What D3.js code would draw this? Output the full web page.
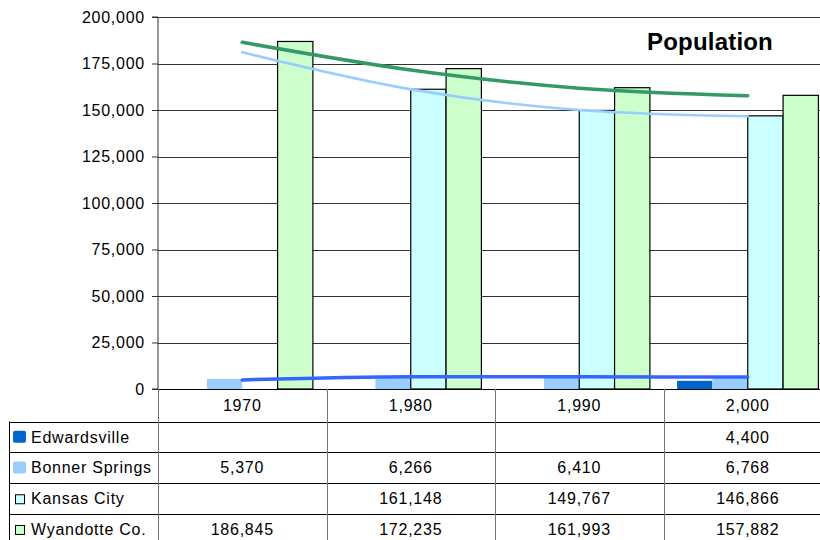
<!DOCTYPE html>
<html>
<head>
<meta charset="utf-8">
<script src="https://cdn.jsdelivr.net/npm/d3@7"></script>
<style>
  html, body { margin: 0; padding: 0; background: #fff; }
  svg { display: block; font-family: "Liberation Sans", Arial, sans-serif; }
</style>
</head>
<body>
<svg id="chart" width="820" height="540"></svg>
<script>
// Census years and their labels as shown in the data table
const years = ["1970", "1980", "1990", "2000"];
const yearLabels = ["1970", "1,980", "1,990", "2,000"];

// Population by place (null = no figure for that year)
const seriesNames = ["Edwardsville", "Bonner Springs", "Kansas City", "Wyandotte Co."];
const edwardsville = [null, null, null, 4400];
const bonnerSprings = [5370, 6266, 6410, 6768];
const kansasCity = [null, 161148, 149767, 146866];
const wyandotteCo = [186845, 172235, 161993, 157882];

// Trend lines drawn across the years
const wyandotteTrend = [186400, 171500, 161700, 157700];
const kansasCityTrend = [181000, 161100, 150000, 146600];
const bonnerTrend = [4900, 6650, 6550, 6450];

// Value axis ticks
const yTicks = [0, 25000, 50000, 75000, 100000, 125000, 150000, 175000, 200000];

const seriesValues = [edwardsville, bonnerSprings, kansasCity, wyandotteCo];
const seriesFill = ["#0066CC", "#99CCFF", "#CCFFFF", "#CCFFCC"];
const seriesStroke = [null, null, "#000", "#000"];

const svg = d3.select("#chart");
const W = 820;
const plotLeft = 158, plotRight = 832, plotTop = 17, plotBottom = 389;

const x0 = d3.scaleBand().domain(years).range([plotLeft, plotRight]);
const x1 = d3.scaleBand().domain(seriesNames).range([0, x0.bandwidth()]).paddingOuter(0.385);
const y = d3.scaleLinear().domain([0, 200000]).range([plotBottom, plotTop]);

const fmt = d3.format(",");
const textStyle = sel => sel.attr("font-size", 16).attr("letter-spacing", 0.75).attr("fill", "#000");

svg.append("rect").attr("width", W).attr("height", 540).attr("fill", "#fff");

// Horizontal gridlines
svg.append("g").selectAll("line").data(yTicks.filter(t => t > 0)).join("line")
  .attr("x1", plotLeft).attr("x2", W)
  .attr("y1", d => Math.round(y(d)) + 0.5).attr("y2", d => Math.round(y(d)) + 0.5)
  .attr("stroke", "#333").attr("stroke-width", 1);

// Bars
const rows = years.map((yr, i) => ({ yr, i }));
const groups = svg.append("g").selectAll("g").data(rows).join("g")
  .attr("transform", d => `translate(${x0(d.yr)},0)`);
groups.selectAll("rect")
  .data(d => seriesNames.map((name, s) => ({ name, s, v: seriesValues[s][d.i] })).filter(e => e.v != null))
  .join("rect")
  .attr("x", e => x1(e.name))
  .attr("width", x1.bandwidth())
  .attr("y", e => y(e.v))
  .attr("height", e => y(0) - y(e.v))
  .attr("fill", e => seriesFill[e.s])
  .attr("stroke", e => seriesStroke[e.s] || "none")
  .attr("stroke-width", 1.2);

// Value axis
const axis = svg.append("g").attr("transform", `translate(${plotLeft},0)`)
  .call(d3.axisLeft(y).tickValues(yTicks).tickFormat(fmt).tickSize(6).tickPadding(7));
axis.select(".domain").attr("stroke", "#333").attr("d", `M-6,${plotTop}H0V${plotBottom}H-6`);
axis.selectAll(".tick line").attr("stroke", "#333");
axis.selectAll(".tick text").attr("font-family", "Liberation Sans, Arial, sans-serif")
  .call(textStyle);

// Category baseline
svg.append("line").attr("x1", plotLeft).attr("x2", W).attr("y1", plotBottom + 0.5).attr("y2", plotBottom + 0.5)
  .attr("stroke", "#000");

// Trend lines
const cx = i => x0(years[i]) + x0.bandwidth() / 2;
const trendLine = d3.line().x((d, i) => cx(i)).y(d => y(d)).curve(d3.curveMonotoneX);
const trends = [
  { values: bonnerTrend, color: "#3366FF", width: 3.5 },
  { values: kansasCityTrend, color: "#99CCFF", width: 2.6 },
  { values: wyandotteTrend, color: "#339966", width: 3.6 }
];
svg.append("g").selectAll("path").data(trends).join("path")
  .attr("d", d => trendLine(d.values))
  .attr("fill", "none")
  .attr("stroke", d => d.color)
  .attr("stroke-width", d => d.width)
  .attr("stroke-linecap", "round");

// Title
svg.append("text").attr("x", 647).attr("y", 50)
  .attr("font-size", 24).attr("font-weight", "bold").attr("letter-spacing", 0.2)
  .text("Population");

// Data table
const headerBottom = 421.5;
const rowH = 30.7;
const table = svg.append("g");
const rowTop = k => headerBottom + k * rowH;

// row borders
table.selectAll("line.row").data(d3.range(seriesNames.length)).join("line")
  .attr("class", "row")
  .attr("x1", 9).attr("x2", W)
  .attr("y1", k => Math.round(rowTop(k)) + 0.5).attr("y2", k => Math.round(rowTop(k)) + 0.5)
  .attr("stroke", "#000");
// left border of the legend column
table.append("line").attr("x1", 9.5).attr("x2", 9.5).attr("y1", headerBottom).attr("y2", 540).attr("stroke", "#000");
// column dividers
table.selectAll("line.col").data(years).join("line")
  .attr("class", "col")
  .attr("x1", d => Math.round(x0(d)) + 0.5).attr("x2", d => Math.round(x0(d)) + 0.5)
  .attr("y1", plotBottom).attr("y2", 540)
  .attr("stroke", "#777");

// header labels
table.selectAll("text.hdr").data(yearLabels).join("text")
  .attr("class", "hdr")
  .attr("x", (d, i) => cx(i)).attr("y", (plotBottom + headerBottom) / 2 + 5.7)
  .attr("text-anchor", "middle").call(textStyle).text(d => d);

// legend keys and names
seriesNames.forEach((name, s) => {
  const top = rowTop(s), mid = top + rowH / 2;
  if (seriesStroke[s]) {
    table.append("rect").attr("x", 15.5).attr("y", mid - 3.5).attr("width", 9).attr("height", 9)
      .attr("fill", seriesFill[s]).attr("stroke", "#000");
  } else {
    table.append("rect").attr("x", 13).attr("y", mid - 6).attr("width", 13).attr("height", 12)
      .attr("rx", 2).attr("fill", seriesFill[s]);
  }
  table.append("text").attr("x", 31).attr("y", mid + 5.7).call(textStyle).text(name);
  table.selectAll(null).data(seriesValues[s].map((v, i) => ({ v, i })).filter(e => e.v != null)).join("text")
    .attr("x", e => cx(e.i)).attr("y", mid + 5.7)
    .attr("text-anchor", "middle").call(textStyle)
    .text(e => fmt(e.v));
});
</script>
</body>
</html>
